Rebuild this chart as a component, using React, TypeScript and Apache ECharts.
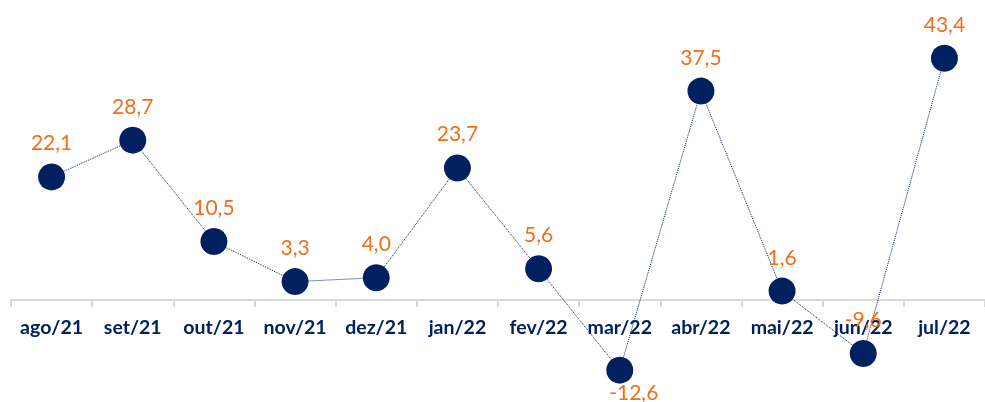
import React, { useEffect, useRef } from "react";
import * as echarts from "echarts";

const categories = ["ago/21", "set/21", "out/21", "nov/21", "dez/21", "jan/22", "fev/22", "mar/22", "abr/22", "mai/22", "jun/22", "jul/22"];
const values = [22.1, 28.7, 10.5, 3.3, 4.0, 23.7, 5.6, -12.6, 37.5, 1.6, -9.6, 43.4];
const belowLabels = ["mar/22"];

export default function App() {
  const ref = useRef<HTMLDivElement>(null);
  useEffect(() => {
    if (!ref.current) return;
    const chart = echarts.init(ref.current, null, { renderer: "svg" });
    const navy = "#002060";
    const orange = "#EE6F1C";
    chart.setOption({
      animation: false,
      grid: { left: 11, right: 0, top: 21.5, bottom: 102, containLabel: false, outerBoundsMode: "none" },
      xAxis: {
        type: "category",
        data: categories,
        boundaryGap: true,
        axisLine: { show: true, onZero: false, lineStyle: { color: "#d9d9d9", width: 2 } },
        axisTick: { show: true, length: 7, lineStyle: { color: "#d9d9d9", width: 2 } },
        axisLabel: {
          color: navy,
          fontFamily: "Lato",
          fontWeight: "bold",
          fontSize: 19.5,
          margin: 16,
          interval: 0,
        },
        z: 1,
      },
      yAxis: {
        type: "value",
        min: 0,
        max: 50,
        show: false,
        splitLine: { show: false },
      },
      series: [
        {
          type: "line",
          clip: false,
          data: values.map((v, i) => ({
            value: v,
            label: belowLabels.includes(categories[i])
              ? { position: "bottom", distance: -3, offset: [14, 0] }
              : { position: "top" },
          })),
          symbol: "circle",
          symbolSize: 27,
          itemStyle: { color: navy },
          lineStyle: { color: navy, width: 1, type: "dotted" },
          z: 3,
          label: {
            show: true,
            color: orange,
            fontFamily: "Lato",
            fontSize: 21,
            distance: 11,
            formatter: (p: any) => Number(p.value).toFixed(1).replace(".", ","),
          },
        },
      ],
    });
    return () => chart.dispose();
  }, []);
  return <div ref={ref} style={{ position: "fixed", left: 0, top: 0, width: 985, height: 402 }} />;
}
